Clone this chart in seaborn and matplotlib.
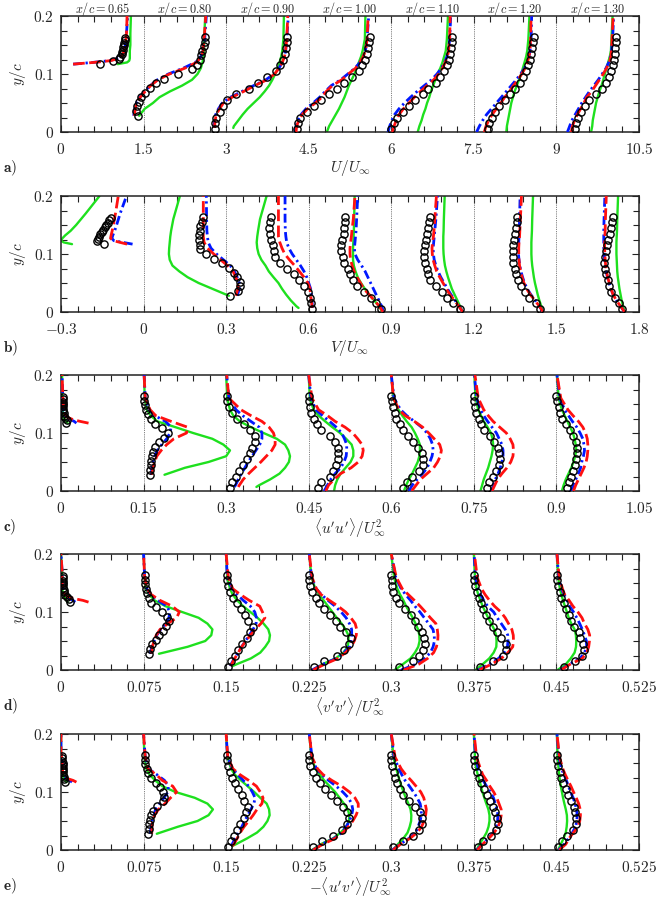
import numpy as np
import matplotlib
matplotlib.use("Agg")
import matplotlib.pyplot as plt
import seaborn as sns
from matplotlib.ticker import FixedLocator, AutoMinorLocator, FuncFormatter

# stations along the chord
stations = ["0.65", "0.80", "0.90", "1.00", "1.10", "1.20", "1.30"]

# wall-normal positions: experiment (circles) and simulations (lines)
y_exp_le = [0.118, 0.122, 0.126, 0.130, 0.134, 0.138, 0.142, 0.146, 0.150, 0.154, 0.158, 0.162]
y_exp_s1 = [0.028, 0.036, 0.044, 0.052, 0.060, 0.068, 0.076, 0.084, 0.092, 0.100, 0.108, 0.116,
            0.124, 0.132, 0.140, 0.148, 0.156, 0.163]
y_exp_wk = [0.005, 0.015, 0.025, 0.035, 0.045, 0.055, 0.065, 0.075, 0.085, 0.095, 0.105, 0.115,
            0.125, 0.135, 0.145, 0.155, 0.163]
y_mod_le = [0.117, 0.120, 0.123, 0.127, 0.132, 0.140, 0.150, 0.170, 0.200]
y_mod_s1 = [0.028, 0.04, 0.05, 0.06, 0.07, 0.08, 0.09, 0.10, 0.11, 0.12, 0.13, 0.14, 0.16, 0.20]
y_mod_s2 = [0.007, 0.01, 0.02, 0.03, 0.04, 0.05, 0.06, 0.07, 0.08, 0.09, 0.10, 0.11, 0.12, 0.13,
            0.14, 0.16, 0.20]
y_mod_wk = [0.0, 0.01, 0.02, 0.03, 0.04, 0.05, 0.06, 0.07, 0.08, 0.09, 0.10, 0.11, 0.12, 0.13,
            0.14, 0.16, 0.20]
y_exp = [y_exp_le, y_exp_s1] + [y_exp_wk] * 5
y_mod = [y_mod_le, y_mod_s1, y_mod_s2] + [y_mod_wk] * 4

# ---------------- U / U_inf ----------------
u_exp = [
    [0.70, 0.95, 1.05, 1.08, 1.10, 1.11, 1.12, 1.13, 1.14, 1.15, 1.16, 1.17],
    [-0.10, -0.13, -0.12, -0.09, -0.05, 0.02, 0.12, 0.22, 0.38, 0.62, 0.88, 0.97, 1.02, 1.05, 1.07, 1.09, 1.11, 1.12],
    [-0.20, -0.21, -0.18, -0.12, -0.06, 0.02, 0.18, 0.41, 0.57, 0.75, 0.90, 0.98, 1.04, 1.07, 1.09, 1.10, 1.11],
    [-0.22, -0.19, -0.15, -0.03, 0.09, 0.22, 0.37, 0.51, 0.65, 0.79, 0.91, 0.97, 1.03, 1.06, 1.08, 1.10, 1.11],
    [-0.01, 0.05, 0.11, 0.22, 0.32, 0.43, 0.57, 0.67, 0.81, 0.88, 0.96, 1.01, 1.04, 1.07, 1.09, 1.10, 1.10],
    [0.26, 0.28, 0.33, 0.39, 0.46, 0.56, 0.65, 0.74, 0.84, 0.89, 0.94, 0.99, 1.02, 1.04, 1.06, 1.08, 1.09],
    [0.33, 0.36, 0.40, 0.45, 0.51, 0.60, 0.71, 0.82, 0.90, 0.96, 1.00, 1.03, 1.05, 1.06, 1.07, 1.08, 1.09],
]
u_red = [
    [0.22, 0.60, 0.90, 1.05, 1.11, 1.15, 1.17, 1.19, 1.20],
    [-0.17, -0.15, -0.13, -0.06, 0.03, 0.13, 0.26, 0.47, 0.75, 0.96, 1.05, 1.08, 1.10, 1.13],
    [-0.21, -0.21, -0.20, -0.18, -0.12, -0.05, 0.11, 0.32, 0.52, 0.74, 0.88, 0.96, 1.02, 1.06, 1.08, 1.10, 1.12],
    [-0.23, -0.22, -0.18, -0.12, -0.02, 0.12, 0.24, 0.32, 0.43, 0.60, 0.72, 0.85, 0.93, 0.99, 1.03, 1.06, 1.08],
    [0.02, 0.05, 0.09, 0.14, 0.22, 0.32, 0.42, 0.53, 0.65, 0.77, 0.86, 0.93, 0.98, 1.02, 1.04, 1.06, 1.07],
    [0.19, 0.22, 0.27, 0.33, 0.41, 0.49, 0.56, 0.65, 0.72, 0.80, 0.87, 0.93, 0.97, 1.00, 1.02, 1.03, 1.04],
    [0.27, 0.29, 0.33, 0.38, 0.44, 0.50, 0.55, 0.64, 0.71, 0.78, 0.85, 0.91, 0.96, 0.99, 1.00, 1.01, 1.03],
]
u_blue = [
    [0.22, 0.58, 0.88, 1.04, 1.10, 1.14, 1.17, 1.19, 1.21],
    [-0.18, -0.16, -0.13, -0.07, 0.02, 0.12, 0.25, 0.45, 0.72, 0.94, 1.04, 1.08, 1.11, 1.14],
    [-0.22, -0.22, -0.21, -0.19, -0.14, -0.07, 0.08, 0.29, 0.50, 0.72, 0.87, 0.96, 1.02, 1.06, 1.08, 1.10, 1.13],
    [-0.25, -0.23, -0.20, -0.14, -0.05, 0.08, 0.20, 0.30, 0.41, 0.58, 0.71, 0.84, 0.93, 0.99, 1.03, 1.06, 1.09],
    [-0.06, -0.03, 0.01, 0.06, 0.14, 0.24, 0.35, 0.47, 0.60, 0.73, 0.83, 0.91, 0.97, 1.01, 1.04, 1.06, 1.08],
    [0.05, 0.10, 0.16, 0.23, 0.32, 0.41, 0.50, 0.59, 0.68, 0.77, 0.85, 0.92, 0.97, 1.00, 1.02, 1.04, 1.05],
    [0.20, 0.24, 0.28, 0.34, 0.40, 0.46, 0.53, 0.60, 0.68, 0.76, 0.83, 0.90, 0.95, 0.98, 1.00, 1.02, 1.04],
]
u_green = [
    [1.03, 1.20, 1.24, 1.25, 1.25, 1.25, 1.26, 1.26, 1.27],
    [-0.08, 0.02, 0.17, 0.29, 0.48, 0.70, 0.88, 0.98, 1.04, 1.07, 1.09, 1.10, 1.10, 1.12],
    [0.13, 0.14, 0.22, 0.30, 0.39, 0.50, 0.61, 0.70, 0.78, 0.84, 0.89, 0.94, 0.97, 1.00, 1.02, 1.04, 1.05],
    [0.33, 0.37, 0.43, 0.49, 0.55, 0.60, 0.65, 0.69, 0.73, 0.78, 0.83, 0.87, 0.91, 0.95, 0.98, 1.02, 1.03],
    [0.48, 0.51, 0.55, 0.58, 0.62, 0.65, 0.69, 0.72, 0.76, 0.80, 0.84, 0.89, 0.93, 0.96, 0.99, 1.01, 1.03],
    [0.59, 0.60, 0.62, 0.64, 0.66, 0.68, 0.71, 0.74, 0.78, 0.82, 0.86, 0.89, 0.92, 0.95, 0.97, 0.99, 1.01],
    [0.63, 0.65, 0.66, 0.68, 0.70, 0.72, 0.75, 0.78, 0.82, 0.85, 0.88, 0.91, 0.94, 0.97, 0.99, 1.00, 1.02],
]

# ---------------- V / U_inf ----------------
v_exp = [
    [0.155, 0.130, 0.133, 0.138, 0.143, 0.148, 0.153, 0.159, 0.164, 0.170, 0.176, 0.182],
    [0.314, 0.343, 0.350, 0.349, 0.341, 0.330, 0.310, 0.285, 0.255, 0.225, 0.205, 0.204, 0.203, 0.203, 0.204, 0.206, 0.211, 0.217],
    [0.312, 0.307, 0.304, 0.298, 0.283, 0.265, 0.245, 0.222, 0.196, 0.176, 0.173, 0.169, 0.162, 0.158, 0.157, 0.159, 0.162],
    [0.264, 0.245, 0.226, 0.200, 0.177, 0.160, 0.149, 0.141, 0.128, 0.125, 0.119, 0.118, 0.122, 0.127, 0.129, 0.132, 0.133],
    [0.248, 0.225, 0.204, 0.184, 0.162, 0.142, 0.135, 0.129, 0.124, 0.120, 0.119, 0.123, 0.127, 0.131, 0.134, 0.138, 0.141],
    [0.240, 0.225, 0.200, 0.184, 0.172, 0.161, 0.152, 0.148, 0.143, 0.141, 0.141, 0.143, 0.146, 0.150, 0.153, 0.156, 0.158],
    [0.240, 0.226, 0.212, 0.200, 0.192, 0.186, 0.179, 0.176, 0.173, 0.176, 0.179, 0.183, 0.188, 0.193, 0.198, 0.203, 0.207],
]
v_red = [
    [0.240, 0.215, 0.190, 0.180, 0.182, 0.186, 0.190, 0.198, 0.208],
    [0.335, 0.343, 0.343, 0.335, 0.325, 0.305, 0.280, 0.255, 0.232, 0.220, 0.217, 0.217, 0.217, 0.217],
    [0.312, 0.312, 0.310, 0.306, 0.305, 0.297, 0.283, 0.266, 0.249, 0.230, 0.213, 0.203, 0.195, 0.190, 0.190, 0.190, 0.190],
    [0.270, 0.257, 0.238, 0.220, 0.200, 0.188, 0.175, 0.165, 0.158, 0.152, 0.150, 0.150, 0.152, 0.155, 0.157, 0.162, 0.168],
    [0.260, 0.245, 0.230, 0.213, 0.200, 0.188, 0.176, 0.165, 0.158, 0.152, 0.149, 0.148, 0.150, 0.153, 0.155, 0.158, 0.164],
    [0.252, 0.238, 0.222, 0.205, 0.192, 0.182, 0.175, 0.170, 0.166, 0.164, 0.163, 0.163, 0.164, 0.166, 0.167, 0.169, 0.173],
    [0.248, 0.233, 0.218, 0.206, 0.198, 0.192, 0.186, 0.182, 0.179, 0.177, 0.176, 0.175, 0.175, 0.176, 0.177, 0.178, 0.181],
]
v_blue = [
    [0.260, 0.225, 0.192, 0.185, 0.188, 0.195, 0.202, 0.215, 0.238],
    [0.340, 0.348, 0.348, 0.340, 0.330, 0.315, 0.290, 0.265, 0.245, 0.235, 0.232, 0.230, 0.229, 0.228],
    [0.313, 0.313, 0.312, 0.310, 0.307, 0.300, 0.293, 0.283, 0.270, 0.255, 0.240, 0.228, 0.220, 0.217, 0.215, 0.214, 0.214],
    [0.272, 0.265, 0.255, 0.245, 0.235, 0.225, 0.215, 0.205, 0.192, 0.178, 0.168, 0.166, 0.168, 0.170, 0.172, 0.174, 0.178],
    [0.260, 0.246, 0.232, 0.217, 0.204, 0.192, 0.180, 0.170, 0.162, 0.156, 0.153, 0.152, 0.154, 0.156, 0.158, 0.162, 0.168],
    [0.252, 0.238, 0.223, 0.207, 0.194, 0.184, 0.177, 0.171, 0.167, 0.164, 0.162, 0.162, 0.163, 0.164, 0.165, 0.166, 0.168],
    [0.248, 0.233, 0.218, 0.206, 0.198, 0.191, 0.185, 0.181, 0.177, 0.175, 0.173, 0.172, 0.172, 0.172, 0.172, 0.173, 0.176],
]
v_green = [
    [0.040, 0.010, 0.000, 0.005, 0.015, 0.035, 0.055, 0.090, 0.140],
    [0.310, 0.250, 0.200, 0.160, 0.130, 0.105, 0.095, 0.092, 0.093, 0.095, 0.097, 0.100, 0.108, 0.132],
    [0.263, 0.255, 0.235, 0.218, 0.203, 0.190, 0.172, 0.155, 0.143, 0.128, 0.118, 0.113, 0.111, 0.113, 0.116, 0.123, 0.147],
    [0.268, 0.255, 0.238, 0.220, 0.204, 0.190, 0.178, 0.170, 0.164, 0.161, 0.161, 0.161, 0.162, 0.163, 0.164, 0.165, 0.167],
    [0.260, 0.250, 0.240, 0.230, 0.220, 0.213, 0.206, 0.200, 0.195, 0.192, 0.190, 0.189, 0.189, 0.189, 0.190, 0.191, 0.194],
    [0.252, 0.245, 0.238, 0.232, 0.227, 0.222, 0.218, 0.215, 0.212, 0.210, 0.209, 0.209, 0.209, 0.210, 0.211, 0.212, 0.215],
    [0.248, 0.242, 0.237, 0.233, 0.229, 0.226, 0.223, 0.221, 0.220, 0.219, 0.218, 0.218, 0.218, 0.219, 0.220, 0.221, 0.224],
]

# ---------------- <u'u'> / U_inf^2 ----------------
uu_exp = [
    [0.009, 0.010, 0.008, 0.006, 0.005, 0.004, 0.004, 0.004, 0.004, 0.004, 0.004, 0.003],
    [0.011, 0.011, 0.013, 0.014, 0.015, 0.017, 0.021, 0.028, 0.038, 0.045, 0.034, 0.020, 0.013, 0.008, 0.005, 0.002, 0.001, 0.000],
    [0.007, 0.011, 0.017, 0.023, 0.030, 0.037, 0.043, 0.047, 0.052, 0.052, 0.044, 0.033, 0.019, 0.010, 0.006, 0.002, 0.001],
    [0.017, 0.023, 0.039, 0.045, 0.050, 0.053, 0.054, 0.053, 0.047, 0.038, 0.022, 0.015, 0.009, 0.005, 0.002, 0.000, 0.000],
    [0.022, 0.029, 0.038, 0.051, 0.057, 0.058, 0.055, 0.048, 0.040, 0.030, 0.021, 0.015, 0.009, 0.006, 0.003, 0.001, 0.000],
    [0.024, 0.028, 0.034, 0.040, 0.045, 0.047, 0.046, 0.043, 0.037, 0.029, 0.018, 0.013, 0.009, 0.004, 0.002, 0.001, 0.000],
    [0.019, 0.022, 0.027, 0.031, 0.034, 0.036, 0.038, 0.037, 0.035, 0.030, 0.024, 0.017, 0.011, 0.007, 0.004, 0.001, 0.000],
]
uu_red = [
    [0.050, 0.035, 0.022, 0.012, 0.007, 0.005, 0.004, 0.003, 0.002],
    [0.015, 0.017, 0.020, 0.024, 0.032, 0.042, 0.055, 0.078, 0.080, 0.050, 0.022, 0.012, 0.003, 0.001],
    [0.022, 0.024, 0.031, 0.041, 0.052, 0.063, 0.073, 0.083, 0.089, 0.089, 0.086, 0.078, 0.065, 0.045, 0.027, 0.005, 0.001],
    [0.031, 0.036, 0.046, 0.058, 0.077, 0.090, 0.097, 0.099, 0.097, 0.089, 0.080, 0.066, 0.048, 0.034, 0.018, 0.006, 0.000],
    [0.037, 0.045, 0.053, 0.065, 0.077, 0.084, 0.089, 0.091, 0.088, 0.078, 0.068, 0.057, 0.042, 0.025, 0.014, 0.004, 0.000],
    [0.033, 0.038, 0.043, 0.051, 0.060, 0.067, 0.071, 0.072, 0.071, 0.066, 0.059, 0.047, 0.035, 0.026, 0.018, 0.008, 0.002],
    [0.031, 0.035, 0.040, 0.045, 0.050, 0.054, 0.056, 0.057, 0.057, 0.056, 0.053, 0.048, 0.040, 0.030, 0.021, 0.008, 0.001],
]
uu_blue = [
    [0.028, 0.024, 0.018, 0.010, 0.006, 0.004, 0.003, 0.003, 0.002],
    [0.014, 0.015, 0.017, 0.020, 0.025, 0.033, 0.042, 0.048, 0.050, 0.040, 0.020, 0.010, 0.003, 0.001],
    [0.015, 0.017, 0.022, 0.028, 0.034, 0.040, 0.047, 0.054, 0.061, 0.065, 0.065, 0.060, 0.045, 0.030, 0.018, 0.005, 0.001],
    [0.028, 0.034, 0.040, 0.048, 0.058, 0.064, 0.068, 0.069, 0.069, 0.065, 0.060, 0.050, 0.038, 0.025, 0.013, 0.004, 0.000],
    [0.032, 0.038, 0.047, 0.057, 0.065, 0.070, 0.074, 0.076, 0.075, 0.071, 0.065, 0.055, 0.042, 0.028, 0.017, 0.005, 0.000],
    [0.032, 0.036, 0.039, 0.044, 0.048, 0.051, 0.053, 0.053, 0.051, 0.046, 0.041, 0.033, 0.025, 0.018, 0.012, 0.005, 0.001],
    [0.026, 0.030, 0.035, 0.040, 0.044, 0.046, 0.049, 0.051, 0.050, 0.048, 0.043, 0.037, 0.029, 0.022, 0.015, 0.006, 0.001],
]
uu_green = [
    [0.012, 0.010, 0.007, 0.005, 0.004, 0.003, 0.003, 0.002, 0.002],
    [0.038, 0.075, 0.118, 0.150, 0.157, 0.145, 0.125, 0.090, 0.058, 0.025, 0.013, 0.006, 0.002, 0.001],
    [0.055, 0.060, 0.080, 0.097, 0.107, 0.114, 0.116, 0.113, 0.107, 0.092, 0.068, 0.045, 0.025, 0.013, 0.007, 0.002, 0.000],
    [0.046, 0.048, 0.052, 0.058, 0.067, 0.076, 0.081, 0.081, 0.078, 0.068, 0.057, 0.043, 0.030, 0.018, 0.009, 0.002, 0.000],
    [0.023, 0.027, 0.032, 0.038, 0.043, 0.048, 0.051, 0.052, 0.052, 0.048, 0.043, 0.037, 0.028, 0.020, 0.013, 0.004, 0.000],
    [0.012, 0.015, 0.018, 0.022, 0.026, 0.029, 0.032, 0.034, 0.035, 0.034, 0.031, 0.025, 0.018, 0.013, 0.008, 0.003, 0.001],
    [0.010, 0.013, 0.017, 0.022, 0.027, 0.031, 0.034, 0.036, 0.035, 0.033, 0.030, 0.025, 0.020, 0.015, 0.010, 0.004, 0.001],
]

# ---------------- <v'v'> / U_inf^2 ----------------
vv_exp = [
    [0.008, 0.007, 0.005, 0.004, 0.003, 0.003, 0.002, 0.002, 0.002, 0.002, 0.002, 0.002],
    [0.0045, 0.0055, 0.0075, 0.011, 0.014, 0.0175, 0.0207, 0.023, 0.021, 0.0165, 0.011, 0.007, 0.0045, 0.003, 0.0025, 0.0015, 0.0013, 0.0012],
    [0.002, 0.0045, 0.0078, 0.0112, 0.0148, 0.0187, 0.022, 0.0247, 0.020, 0.0175, 0.0135, 0.010, 0.0062, 0.0032, 0.0015, 0.0008, 0.0005],
    [0.0045, 0.0135, 0.0255, 0.0318, 0.0363, 0.0383, 0.0335, 0.0281, 0.0246, 0.0193, 0.0136, 0.0095, 0.0062, 0.0033, 0.0016, 0.0002, 0.0002],
    [0.007, 0.0195, 0.025, 0.029, 0.0309, 0.030, 0.0275, 0.0243, 0.0215, 0.018, 0.0125, 0.0068, 0.004, 0.002, 0.0008, 0.0002, 0.0],
    [0.006, 0.017, 0.0265, 0.0295, 0.0292, 0.0242, 0.0214, 0.0174, 0.0142, 0.0107, 0.0082, 0.0062, 0.0045, 0.0028, 0.001, 0.0005, 0.0002],
    [0.0065, 0.0168, 0.0228, 0.0248, 0.0245, 0.0218, 0.0201, 0.0159, 0.0132, 0.011, 0.009, 0.0065, 0.0045, 0.0028, 0.0014, 0.0008, 0.0008],
]
vv_red = [
    [0.025, 0.020, 0.012, 0.006, 0.003, 0.002, 0.001, 0.001, 0.0],
    [0.0072, 0.008, 0.0095, 0.0115, 0.015, 0.022, 0.030, 0.0325, 0.026, 0.015, 0.007, 0.003, 0.001, 0.0],
    [0.004, 0.005, 0.0078, 0.011, 0.0141, 0.018, 0.022, 0.0265, 0.0315, 0.0352, 0.033, 0.0305, 0.021, 0.013, 0.006, 0.002, 0.0],
    [0.004, 0.0145, 0.0265, 0.0335, 0.0386, 0.0414, 0.0432, 0.0436, 0.0422, 0.0383, 0.0335, 0.0267, 0.0188, 0.0112, 0.007, 0.003, 0.0005],
    [0.011, 0.025, 0.033, 0.0385, 0.041, 0.0422, 0.0424, 0.0418, 0.0405, 0.0355, 0.031, 0.0262, 0.021, 0.0155, 0.010, 0.0045, 0.0],
    [0.005, 0.016, 0.025, 0.031, 0.0353, 0.036, 0.0358, 0.0345, 0.0315, 0.0285, 0.0245, 0.0188, 0.0142, 0.0102, 0.007, 0.003, 0.0005],
    [0.004, 0.0125, 0.0235, 0.0275, 0.0293, 0.030, 0.0302, 0.0285, 0.0255, 0.0232, 0.0195, 0.015, 0.0115, 0.0075, 0.0055, 0.0025, 0.0005],
]
vv_blue = [
    [0.013, 0.011, 0.008, 0.005, 0.003, 0.002, 0.001, 0.001, 0.0],
    [0.006, 0.0075, 0.0095, 0.012, 0.0155, 0.020, 0.023, 0.024, 0.021, 0.013, 0.006, 0.003, 0.001, 0.0],
    [0.0035, 0.0045, 0.0075, 0.011, 0.0141, 0.0175, 0.021, 0.0245, 0.0272, 0.0275, 0.026, 0.022, 0.0156, 0.010, 0.0055, 0.001, 0.0],
    [0.003, 0.013, 0.025, 0.032, 0.037, 0.0385, 0.039, 0.039, 0.037, 0.034, 0.0295, 0.024, 0.0175, 0.0115, 0.0068, 0.0025, 0.0005],
    [0.009, 0.0225, 0.0305, 0.0355, 0.038, 0.0392, 0.039, 0.0379, 0.034, 0.030, 0.026, 0.0215, 0.0175, 0.013, 0.009, 0.004, 0.0],
    [0.004, 0.014, 0.0225, 0.0275, 0.0305, 0.031, 0.0308, 0.0285, 0.0249, 0.0212, 0.018, 0.0125, 0.009, 0.006, 0.0037, 0.0015, 0.0002],
    [0.0035, 0.0115, 0.0215, 0.0255, 0.0275, 0.0272, 0.0255, 0.0235, 0.0211, 0.0185, 0.0155, 0.012, 0.0095, 0.007, 0.0045, 0.002, 0.0005],
]
vv_green = [
    [0.006, 0.005, 0.004, 0.003, 0.002, 0.001, 0.001, 0.001, 0.0],
    [0.014, 0.040, 0.056, 0.0615, 0.0625, 0.058, 0.050, 0.035, 0.020, 0.010, 0.005, 0.002, 0.001, 0.0],
    [0.006, 0.0096, 0.0225, 0.031, 0.0355, 0.039, 0.0398, 0.0383, 0.034, 0.0285, 0.022, 0.0155, 0.010, 0.006, 0.0035, 0.001, 0.0],
    [0.0035, 0.0125, 0.0245, 0.0315, 0.0353, 0.0362, 0.036, 0.0335, 0.0299, 0.0255, 0.0215, 0.0175, 0.0135, 0.0095, 0.006, 0.0025, 0.0005],
    [0.003, 0.0105, 0.0175, 0.0215, 0.0245, 0.0257, 0.0255, 0.0243, 0.022, 0.0195, 0.0165, 0.0135, 0.011, 0.008, 0.0055, 0.0025, 0.0],
    [0.0015, 0.008, 0.014, 0.018, 0.0204, 0.0206, 0.0202, 0.0185, 0.0158, 0.013, 0.0105, 0.008, 0.006, 0.004, 0.0025, 0.001, 0.0],
    [0.001, 0.0085, 0.013, 0.0165, 0.0178, 0.018, 0.0177, 0.0165, 0.0135, 0.0112, 0.0095, 0.0077, 0.006, 0.0045, 0.0032, 0.0015, 0.0005],
]

# ---------------- -<u'v'> / U_inf^2 ----------------
uv_exp = [
    [0.004, 0.003, 0.003, 0.002, 0.002, 0.002, 0.002, 0.002, 0.002, 0.001, 0.001, 0.001],
    [0.0036, 0.0045, 0.0052, 0.006, 0.007, 0.0085, 0.0125, 0.0175, 0.019, 0.018, 0.0145, 0.011, 0.007, 0.0038, 0.0028, 0.0017, 0.0014, 0.0013],
    [0.002, 0.0045, 0.007, 0.0097, 0.0127, 0.016, 0.0182, 0.020, 0.0165, 0.014, 0.0106, 0.0079, 0.0052, 0.0032, 0.0015, 0.0008, 0.0005],
    [0.004, 0.012, 0.022, 0.030, 0.035, 0.037, 0.035, 0.031, 0.026, 0.020, 0.015, 0.010, 0.0065, 0.0035, 0.0015, 0.0005, 0.0002],
    [0.002, 0.0105, 0.0195, 0.0252, 0.0275, 0.0278, 0.0262, 0.0218, 0.0162, 0.0105, 0.0075, 0.0055, 0.0038, 0.0022, 0.0006, 0.0, 0.0],
    [0.0035, 0.0085, 0.0155, 0.020, 0.0215, 0.0212, 0.0195, 0.0174, 0.0147, 0.0122, 0.0095, 0.0065, 0.0045, 0.0025, 0.001, 0.0005, 0.0001],
    [0.001, 0.0055, 0.0095, 0.0152, 0.0177, 0.0178, 0.0168, 0.0159, 0.0135, 0.0108, 0.0085, 0.0064, 0.0045, 0.0028, 0.0013, 0.0006, 0.0003],
]
uv_red = [
    [0.014, 0.011, 0.006, 0.003, 0.002, 0.001, 0.001, 0.0, 0.0],
    [0.0074, 0.0076, 0.0082, 0.010, 0.0135, 0.0195, 0.0245, 0.030, 0.0265, 0.017, 0.0115, 0.004, 0.0015, 0.0],
    [0.0055, 0.007, 0.010, 0.0128, 0.0162, 0.0205, 0.0245, 0.028, 0.0325, 0.0335, 0.031, 0.0275, 0.0205, 0.0125, 0.0062, 0.0015, 0.0],
    [0.004, 0.013, 0.024, 0.031, 0.036, 0.040, 0.043, 0.045, 0.045, 0.042, 0.037, 0.030, 0.021, 0.013, 0.008, 0.003, 0.0005],
    [0.0015, 0.0085, 0.017, 0.0235, 0.0275, 0.0298, 0.0312, 0.0318, 0.0308, 0.0295, 0.0268, 0.0225, 0.018, 0.013, 0.009, 0.0035, 0.0],
    [0.003, 0.008, 0.0135, 0.0185, 0.022, 0.024, 0.0248, 0.0248, 0.0228, 0.0208, 0.018, 0.0145, 0.0115, 0.008, 0.006, 0.0025, 0.0002],
    [0.0025, 0.0085, 0.0115, 0.0155, 0.0195, 0.0212, 0.0218, 0.0216, 0.0202, 0.018, 0.0155, 0.0132, 0.0105, 0.008, 0.0058, 0.0028, 0.0005],
]
uv_blue = [
    [0.010, 0.008, 0.005, 0.003, 0.002, 0.001, 0.001, 0.0, 0.0],
    [0.006, 0.0068, 0.0078, 0.0095, 0.0108, 0.0145, 0.0185, 0.0222, 0.0225, 0.019, 0.012, 0.0045, 0.0015, 0.0],
    [0.0045, 0.0055, 0.0082, 0.011, 0.0142, 0.0168, 0.0197, 0.0225, 0.0252, 0.0263, 0.0238, 0.0205, 0.0155, 0.0105, 0.0058, 0.0013, 0.0],
    [0.004, 0.012, 0.023, 0.030, 0.034, 0.037, 0.039, 0.040, 0.039, 0.036, 0.031, 0.025, 0.018, 0.012, 0.007, 0.003, 0.0005],
    [0.001, 0.008, 0.016, 0.0222, 0.0243, 0.0262, 0.0273, 0.0272, 0.0262, 0.0235, 0.0202, 0.0165, 0.0125, 0.0095, 0.007, 0.0025, 0.0],
    [0.0025, 0.0075, 0.013, 0.018, 0.0204, 0.0215, 0.0219, 0.021, 0.0195, 0.0178, 0.015, 0.0115, 0.0085, 0.006, 0.004, 0.0015, 0.0002],
    [0.002, 0.007, 0.011, 0.0145, 0.0174, 0.0185, 0.0189, 0.0182, 0.017, 0.0152, 0.0128, 0.011, 0.009, 0.007, 0.0045, 0.0022, 0.0005],
]
uv_green = [
    [0.005, 0.004, 0.003, 0.002, 0.001, 0.001, 0.0, 0.0, 0.0],
    [0.012, 0.031, 0.049, 0.059, 0.063, 0.058, 0.0465, 0.029, 0.017, 0.0105, 0.0055, 0.0025, 0.0008, 0.0],
    [0.0055, 0.009, 0.019, 0.028, 0.0338, 0.0375, 0.0395, 0.039, 0.0368, 0.031, 0.0255, 0.0195, 0.0135, 0.0078, 0.0045, 0.0012, 0.0],
    [0.003, 0.011, 0.022, 0.029, 0.034, 0.0365, 0.037, 0.0355, 0.032, 0.028, 0.024, 0.019, 0.014, 0.010, 0.006, 0.0025, 0.0005],
    [0.0015, 0.006, 0.011, 0.0148, 0.0167, 0.018, 0.0182, 0.0175, 0.0155, 0.0132, 0.0112, 0.0092, 0.0075, 0.006, 0.0045, 0.002, 0.0],
    [0.0025, 0.005, 0.0085, 0.0115, 0.0133, 0.0142, 0.0142, 0.0132, 0.0113, 0.0095, 0.0078, 0.0065, 0.005, 0.0035, 0.0022, 0.001, 0.0],
    [0.0015, 0.004, 0.0065, 0.0085, 0.0093, 0.0097, 0.0095, 0.0085, 0.0072, 0.006, 0.005, 0.004, 0.0032, 0.0025, 0.002, 0.001, 0.0005],
]

# station spacing and first offset of each panel
steps = [1.5, 0.3, 0.15, 0.075, 0.075]
starts = [0.0, -0.3, 0.0, 0.0, 0.0]
xlabels = [r"$U/U_\infty$", r"$V/U_\infty$", r"$\langle u'u'\rangle/U_\infty^2$",
           r"$\langle v'v'\rangle/U_\infty^2$", r"$-\langle u'v'\rangle/U_\infty^2$"]
letters = ["a)", "b)", "c)", "d)", "e)"]

panels = [
    (u_exp, u_blue, u_red, u_green),
    (v_exp, v_blue, v_red, v_green),
    (uu_exp, uu_blue, uu_red, uu_green),
    (vv_exp, vv_blue, vv_red, vv_green),
    (uv_exp, uv_blue, uv_red, uv_green),
]

sns.set_theme(style="ticks")
plt.rcParams["font.family"] = ["DejaVu Serif"]
plt.rcParams["mathtext.fontset"] = "cm"

fig = plt.figure(figsize=(6.58, 9.0), dpi=100)
axes_top = [16, 196, 375, 554, 734]   # pixel rows of the panel tops
ax_h = 116

fmt = FuncFormatter(lambda v, p: "$%s$" % ("%g" % round(v, 4)))

for k, (exp, blue, red, green) in enumerate(panels):
    top = axes_top[k]
    ax = fig.add_axes([61 / 658, 1 - (top + ax_h) / 900, 578 / 658, ax_h / 900])
    step, x0 = steps[k], starts[k]

    for i in range(7):
        off = x0 + step * i
        if i > 0:
            ax.axvline(off, color="#555555", ls=(0, (1, 1.2)), lw=0.6, zorder=1)
        xg = np.array(green[i]) + off
        xb = np.array(blue[i]) + off
        xr = np.array(red[i]) + off
        xe = np.array(exp[i]) + off
        ym = y_mod[i]
        sns.lineplot(x=xg, y=ym, sort=False, estimator=None, color="#1ee01e", lw=1.7, ax=ax, zorder=2)
        sns.lineplot(x=xb, y=ym, sort=False, estimator=None, color="#0018ff", lw=2.0,
                     linestyle=(0, (3.2, 1.3, 0.8, 1.3)), ax=ax, zorder=3)
        sns.lineplot(x=xr, y=ym, sort=False, estimator=None, color="#ff1010", lw=2.0,
                     linestyle=(0, (4.2, 1.6)), ax=ax, zorder=4)
        ax.plot(xe, y_exp[i], ls="none", marker="o", ms=5.2, mfc="none", mec="black",
                mew=1.0, zorder=5)
        if k == 0:
            ax.text(off + step / 2, 1.022, r"$x/c = %s$" % stations[i], transform=ax.get_xaxis_transform(),
                    ha="center", va="baseline", fontsize=8.8)

    ax.set_xlim(x0, x0 + 7 * step)
    ax.set_ylim(0, 0.2)
    ax.xaxis.set_major_locator(FixedLocator([x0 + step * j for j in range(8)]))
    ax.xaxis.set_minor_locator(AutoMinorLocator(5))
    ax.yaxis.set_major_locator(FixedLocator([0, 0.1, 0.2]))
    ax.yaxis.set_minor_locator(AutoMinorLocator(4))
    ax.xaxis.set_major_formatter(fmt)
    ax.yaxis.set_major_formatter(fmt)
    ax.tick_params(which="both", direction="in", top=True, right=True, labelsize=11,
                   width=0.8, color="#222222")
    ax.tick_params(axis="x", which="major", length=5, pad=7)
    ax.tick_params(axis="y", which="major", length=5, pad=5)
    ax.tick_params(which="minor", length=4)
    for s in ax.spines.values():
        s.set_linewidth(1.1)
        s.set_color("#222222")
    ax.set_xlabel(xlabels[k], fontsize=11, labelpad=1)
    ax.set_ylabel(r"$y/c$", fontsize=11, labelpad=4)
    fig.text(3 / 658, 1 - (top + ax_h + 36) / 900, r"$\mathbf{%s}$" % letters[k],
             ha="left", va="center", fontsize=11)

fig.savefig("out.png", dpi=100)
